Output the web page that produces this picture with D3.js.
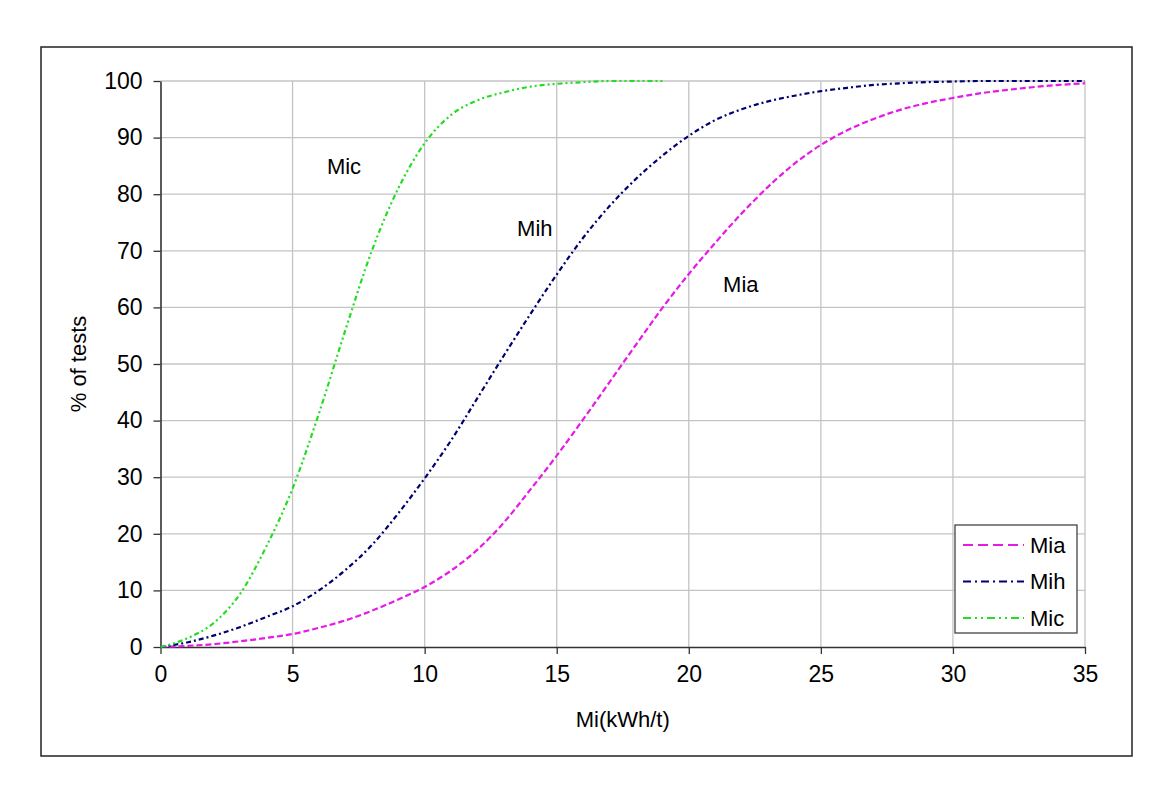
<!DOCTYPE html>
<html>
<head>
<meta charset="utf-8">
<script src="https://cdn.jsdelivr.net/npm/d3@7"></script>
<style>
    body { margin: 0; background: #fff; }
    svg text { font-family: "Liberation Sans", Arial, sans-serif; fill: #000; }
</style>
</head>
<body>
<div id="chart"></div>
<script>
// values
let miValues = d3.range(0, 36);
let miaValues = [0, 0.2, 0.5, 1.0, 1.6, 2.3, 3.4, 4.7, 6.4, 8.4, 10.6, 13.5, 17.2, 22, 27.8, 33.8,
    40.2, 46.8, 53.4, 59.9, 65.9, 71.4, 76.6, 81.3, 85.4, 88.7, 91.3, 93.3, 94.9, 96.1, 97.0, 97.8, 98.4, 98.9, 99.3, 99.6];
let mihValues = [0, 0.8, 2.0, 3.5, 5.3, 7.2, 10, 13.6, 18, 23.6, 29.8, 36.5, 44, 51.5, 58.8, 65.8,
    72.3, 77.9, 82.7, 86.8, 90.3, 93.1, 95, 96.4, 97.4, 98.2, 98.8, 99.3, 99.6, 99.8, 99.9, 100, 100, 100, 100, 100];
let micValues = [0, 1.5, 4.2, 9.3, 17.7, 28, 41.3, 56, 70, 81, 89, 94, 96.6, 98, 99, 99.5, 99.8, 100, 100, 100];

let seriesNames = ["Mia", "Mih", "Mic"];
let xTicks = [0, 5, 10, 15, 20, 25, 30, 35];
let yTicks = [0, 10, 20, 30, 40, 50, 60, 70, 80, 90, 100];

let series = [
    { name: "Mia", values: miaValues, color: "#e619e6", dash: "6,3", legendDash: "10,5" },
    { name: "Mih", values: mihValues, color: "#000070", dash: "5,3,2,3", legendDash: "8,4,2,4" },
    { name: "Mic", values: micValues, color: "#22dd22", dash: "5,3,2,3,2,3", legendDash: "8,4,2,4,2,4" }
];

let width = 1162, height = 796;
let margin = { top: 81, right: 77, bottom: 149, left: 160.5 };

let svg = d3.select("#chart").append("svg")
    .attr("width", width)
    .attr("height", height);

// outer frame
svg.append("rect")
    .attr("x", 41).attr("y", 47)
    .attr("width", 1091).attr("height", 709)
    .attr("fill", "none")
    .attr("stroke", "#222")
    .attr("stroke-width", 1.5);

let x = d3.scaleLinear().domain([0, 35]).range([margin.left, width - margin.right]);
let y = d3.scaleLinear().domain([0, 100]).range([height - margin.bottom, margin.top]);

// gridlines
let grid = svg.append("g").attr("class", "grid");
grid.selectAll(".hgrid")
    .data(yTicks.filter(d => d > 0))
    .enter().append("line")
    .attr("x1", x(0)).attr("x2", x(35))
    .attr("y1", d => y(d)).attr("y2", d => y(d))
    .attr("stroke", "#c4c4c4")
    .attr("stroke-width", 1.3);
grid.selectAll(".vgrid")
    .data(xTicks.filter(d => d > 0))
    .enter().append("line")
    .attr("x1", d => x(d)).attr("x2", d => x(d))
    .attr("y1", y(0)).attr("y2", y(100))
    .attr("stroke", "#c4c4c4")
    .attr("stroke-width", 1.3);

// axes
let xAxis = svg.append("g")
    .attr("transform", `translate(0, ${y(0)})`)
    .call(d3.axisBottom(x).tickValues(xTicks).tickSize(7).tickSizeOuter(0).tickPadding(12));
let yAxis = svg.append("g")
    .attr("transform", `translate(${x(0)}, 0)`)
    .call(d3.axisLeft(y).tickValues(yTicks).tickSize(7).tickSizeOuter(0).tickPadding(11));

[xAxis, yAxis].forEach(a => {
    a.select(".domain").attr("stroke", "#333").attr("stroke-width", 1.6);
    a.selectAll(".tick line").attr("stroke", "#333").attr("stroke-width", 1.3);
    a.selectAll(".tick text")
        .style("font-size", "23px")
        .style("font-family", "'Liberation Sans', Arial, sans-serif")
        .attr("fill", "#000");
});

// axis titles
svg.append("text")
    .attr("x", (x(0) + x(35)) / 2)
    .attr("y", 727)
    .attr("text-anchor", "middle")
    .style("font-size", "22px")
    .text("Mi(kWh/t)");

svg.append("text")
    .attr("transform", `translate(86, ${y(50)}) rotate(-90)`)
    .attr("text-anchor", "middle")
    .style("font-size", "22px")
    .text("% of tests");

// curves
let line = d3.line()
    .x((d, i) => x(miValues[i]))
    .y(d => y(d))
    .curve(d3.curveMonotoneX);

svg.append("g").selectAll(".curve")
    .data(series)
    .enter().append("path")
    .attr("class", "curve")
    .attr("d", d => line(d.values))
    .attr("fill", "none")
    .attr("stroke", d => d.color)
    .attr("stroke-width", 2.2)
    .attr("stroke-dasharray", d => d.dash);

// curve labels
let curveLabels = [
    { name: "Mic", mi: 6.3, pct: 85 },
    { name: "Mih", mi: 13.5, pct: 74 },
    { name: "Mia", mi: 21.3, pct: 64 }
];
svg.append("g").selectAll(".clabel")
    .data(curveLabels)
    .enter().append("text")
    .attr("x", d => x(d.mi))
    .attr("y", d => y(d.pct))
    .attr("dy", "0.35em")
    .style("font-size", "22px")
    .text(d => d.name);

// legend
let legend = svg.append("g").attr("transform", "translate(955, 525)");
legend.append("rect")
    .attr("width", 122).attr("height", 108)
    .attr("fill", "#fff")
    .attr("stroke", "#444")
    .attr("stroke-width", 1.3);
let items = legend.selectAll(".item")
    .data(series)
    .enter().append("g")
    .attr("transform", (d, i) => `translate(0, ${20 + i * 36.5})`);
items.append("line")
    .attr("x1", 8).attr("x2", 69)
    .attr("stroke", d => d.color)
    .attr("stroke-width", 2.2)
    .attr("stroke-dasharray", d => d.legendDash);
items.append("text")
    .attr("x", 75)
    .attr("dy", "0.35em")
    .style("font-size", "22px")
    .text(d => d.name);
</script>
</body>
</html>
